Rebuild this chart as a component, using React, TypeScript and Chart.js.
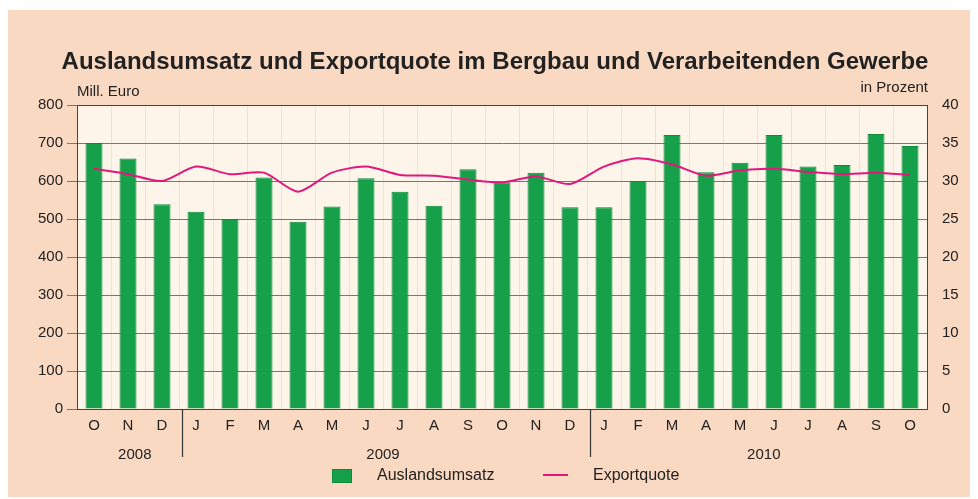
import React, { useEffect, useRef } from "react";
import { Chart, registerables } from "chart.js";

Chart.register(...registerables);

const months = ["O","N","D","J","F","M","A","M","J","J","A","S","O","N","D","J","F","M","A","M","J","J","A","S","O"];
const auslandsumsatz = [700,659,539,519,500,609,493,533,607,572,535,631,596,622,531,531,600,721,623,648,721,638,642,724,692];
const exportquote = [31.6,30.9,30.0,31.9,30.9,31.1,28.6,31.1,31.9,30.8,30.7,30.2,29.8,30.6,29.6,31.9,33.0,32.2,30.7,31.4,31.6,31.2,30.9,31.1,30.8];
const years = ["2008","2009","2010"];
const yearStart = [0, 3, 15];
const yearEnd = [2, 14, 24];
const leftTicks = [0,100,200,300,400,500,600,700,800];
const rightTicks = [0,5,10,15,20,25,30,35,40];

const TITLE = "Auslandsumsatz und Exportquote im Bergbau und Verarbeitenden Gewerbe";
const FONT = "'Liberation Sans', Arial, sans-serif";
const TEXT = "#222";
const BAR = "#17a04a";
const BAR_BORDER = "#0f8a3d";
const LINE = "#e2187c";

const decor = {
  id: "decor",
  beforeDraw(chart: any) {
    const { ctx, chartArea: a } = chart;
    ctx.save();
    ctx.fillStyle = "#fdf4ea";
    ctx.fillRect(a.left, a.top, a.right - a.left, a.bottom - a.top);
    ctx.restore();
  },
  afterDraw(chart: any) {
    const { ctx, chartArea: a, scales } = chart;
    const x = scales.x;
    ctx.save();
    // frame
    ctx.strokeStyle = "#444";
    ctx.lineWidth = 1;
    ctx.strokeRect(Math.round(a.left) + 0.5, Math.round(a.top) + 0.5, Math.round(a.right - a.left), Math.round(a.bottom - a.top));
    // title
    ctx.fillStyle = TEXT;
    ctx.textBaseline = "middle";
    ctx.textAlign = "center";
    ctx.font = `bold 24px ${FONT}`;
    ctx.fillText(TITLE, (a.left + a.right) / 2 - 7, 52);
    // unit labels
    ctx.font = `15px ${FONT}`;
    ctx.textAlign = "left";
    ctx.fillText("Mill. Euro", a.left, 82);
    ctx.textAlign = "right";
    ctx.fillText("in Prozent", a.right + 1, 78);
    // year separators and labels
    ctx.strokeStyle = "#333";
    ctx.lineWidth = 1.2;
    for (let i = 1; i < years.length; i++) {
      const px = Math.round(x.getPixelForValue(yearStart[i] - 0.4)) + 0.5;
      ctx.beginPath();
      ctx.moveTo(px, a.bottom);
      ctx.lineTo(px, a.bottom + 48);
      ctx.stroke();
    }
    ctx.textAlign = "center";
    ctx.font = `15px ${FONT}`;
    for (let i = 0; i < years.length; i++) {
      const c = (yearStart[i] + yearEnd[i]) / 2 + (i === 1 ? 0 : 0.2);
      ctx.fillText(years[i], x.getPixelForValue(c), a.bottom + 46);
    }
    // legend
    const ly = 466;
    ctx.fillStyle = BAR;
    ctx.fillRect(324, ly - 7, 20, 14);
    ctx.strokeStyle = BAR_BORDER;
    ctx.lineWidth = 1;
    ctx.strokeRect(324.5, ly - 6.5, 19, 13);
    ctx.fillStyle = TEXT;
    ctx.textAlign = "left";
    ctx.font = `16px ${FONT}`;
    ctx.fillText(chart.data.datasets[1].label, 369, ly);
    ctx.strokeStyle = LINE;
    ctx.lineWidth = 2;
    ctx.beginPath();
    ctx.moveTo(535, ly - 1);
    ctx.lineTo(560, ly - 1);
    ctx.stroke();
    ctx.fillText(chart.data.datasets[0].label, 585, ly);
    ctx.restore();
  },
};

export default function App() {
  const ref = useRef<HTMLCanvasElement>(null);
  useEffect(() => {
    const chart = new Chart(ref.current as HTMLCanvasElement, {
      type: "bar",
      data: {
        labels: months,
        datasets: [
          {
            type: "line",
            label: "Exportquote",
            data: exportquote,
            yAxisID: "y1",
            borderColor: LINE,
            borderWidth: 2,
            pointRadius: 0,
            tension: 0.25,
            order: 0,
          } as any,
          {
            type: "bar",
            label: "Auslandsumsatz",
            data: auslandsumsatz,
            yAxisID: "y",
            backgroundColor: BAR,
            borderColor: BAR_BORDER,
            borderWidth: 1,
            barPercentage: 0.5,
            categoryPercentage: 1.0,
            order: 1,
          },
        ],
      },
      options: {
        animation: false,
        responsive: false,
        maintainAspectRatio: false,
        layout: { padding: { top: 95, bottom: 60, left: 0, right: 0 } },
        plugins: { legend: { display: false }, tooltip: { enabled: false }, title: { display: false } },
        scales: {
          x: {
            offset: true,
            grid: { display: true, offset: true, color: "rgba(190,170,150,0.25)", drawTicks: false },
            border: { display: false },
            ticks: { color: TEXT, font: { family: FONT, size: 15 }, padding: 8, autoSkip: false, maxRotation: 0 },
            afterFit: (s: any) => { s.height = 30; },
          },
          y: {
            position: "left",
            min: 0,
            max: 800,
            afterBuildTicks: (s: any) => { s.ticks = leftTicks.map((v) => ({ value: v })); },
            grid: { color: "#777", lineWidth: 1, tickLength: 10, drawTicks: true },
            border: { display: true, color: "#444" },
            ticks: { color: TEXT, font: { family: FONT, size: 15 }, padding: 4 },
            afterFit: (s: any) => { s.width = 69; },
          },
          y1: {
            position: "right",
            min: 0,
            max: 40,
            afterBuildTicks: (s: any) => { s.ticks = rightTicks.map((v) => ({ value: v })); },
            grid: { display: false },
            border: { display: false },
            ticks: { color: TEXT, font: { family: FONT, size: 15 }, padding: 7 },
            afterFit: (s: any) => { s.width = 43; },
          },
        },
      },
      plugins: [decor],
    } as any);
    return () => chart.destroy();
  }, []);
  return (
    <div style={{ position: "relative", top: 2, width: 962, height: 489, background: "#fad9c2" }}>
      <canvas ref={ref} width={962} height={489} style={{ display: "block", width: 962, height: 489 }} />
    </div>
  );
}
